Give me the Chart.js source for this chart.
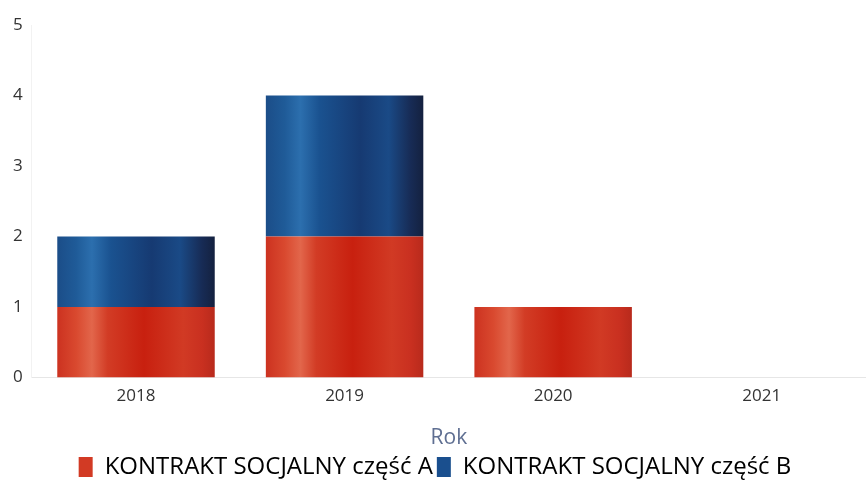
<!DOCTYPE html>
<html>
<head>
<meta charset="utf-8">
<script src="https://cdn.jsdelivr.net/npm/chart.js@4/dist/chart.umd.min.js"></script>
<style>
	html, body { margin: 0; padding: 0; background: #fff; }
	#wrap { width: 866px; height: 490px; }
</style>
</head>
<body>
<div id="wrap"><canvas id="myChart" width="866" height="490"></canvas></div>
<script>
const years = ['2018', '2019', '2020', '2021'];
const partA = [1, 2, 1, 0];
const partB = [1, 2, 0, 0];
const yTicks = [0, 1, 2, 3, 4, 5];

const barShare = 0.755;

// horizontal shading across each bar, like the original cylinder look
function shade(stops, fallback) {
	return function(c) {
		const chart = c.chart;
		if (!chart.chartArea || c.dataIndex === undefined) return fallback;
		const x = chart.scales.x;
		const mid = x.getPixelForValue(c.dataIndex);
		const half = (x.width / years.length) * barShare / 2;
		const g = chart.ctx.createLinearGradient(mid - half, 0, mid + half, 0);
		stops.forEach(s => g.addColorStop(s[0], s[1]));
		return g;
	};
}

const redStops = [
	[0, '#cc3220'], [0.12, '#d9492f'], [0.22, '#e2664b'], [0.32, '#d23c25'],
	[0.55, '#c8200f'], [0.8, '#d13a24'], [0.92, '#c93020'], [1, '#b82a1c']
];
const blueStops = [
	[0, '#1b4d88'], [0.12, '#1f5b98'], [0.22, '#2c6fae'], [0.34, '#1a5290'],
	[0.6, '#163a72'], [0.78, '#1a4a86'], [0.92, '#172b55'], [1, '#14213f']
];

const ctx = document.getElementById('myChart').getContext('2d');
const data = {
	labels: years,
	datasets: [{
		label: 'KONTRAKT SOCJALNY część A',
		data: partA,
		backgroundColor: shade(redStops, '#cf2f1c'),
		borderWidth: 0
	}, {
		label: 'KONTRAKT SOCJALNY część B',
		data: partB,
		backgroundColor: shade(blueStops, '#1a4a86'),
		borderWidth: 0
	}]
};

const myChart = new Chart(ctx, {
	type: 'bar',
	data: data,
	options: {
		responsive: false,
		animation: false,
		layout: { padding: { left: 4, right: 0, top: 25, bottom: 1 } },
		datasets: { bar: { barPercentage: 1, categoryPercentage: barShare } },
		scales: {
			x: {
				stacked: true,
				grid: { display: false, drawTicks: false },
				border: { color: '#e6e6e6' },
				ticks: { color: '#333', padding: 9, font: { family: 'Open Sans', size: 17 } },
				title: { display: true, text: 'Rok', color: '#5f6f92', padding: { top: 10, bottom: 0 }, font: { family: 'Open Sans', size: 21 } }
			},
			y: {
				stacked: true,
				min: 0,
				max: 5,
				afterBuildTicks: axis => { axis.ticks = yTicks.map(v => ({ value: v })); },
				grid: { display: false, drawTicks: false },
				border: { color: '#f2f2f2' },
				ticks: { color: '#333', padding: 9, font: { family: 'Open Sans', size: 17 } }
			}
		},
		plugins: {
			legend: {
				position: 'bottom',
				labels: {
					color: '#333',
					boxWidth: 14,
					boxHeight: 20,
					padding: 4,
					font: { family: 'Open Sans', size: 24 },
					generateLabels: chart => chart.data.datasets.map((d, i) => ({
						text: d.label,
						fillStyle: i === 0 ? '#d23a24' : '#1a4f8e',
						strokeStyle: 'transparent',
						lineWidth: 0,
						datasetIndex: i
					}))
				}
			},
			tooltip: { enabled: false }
		}
	}
});
</script>
</body>
</html>
